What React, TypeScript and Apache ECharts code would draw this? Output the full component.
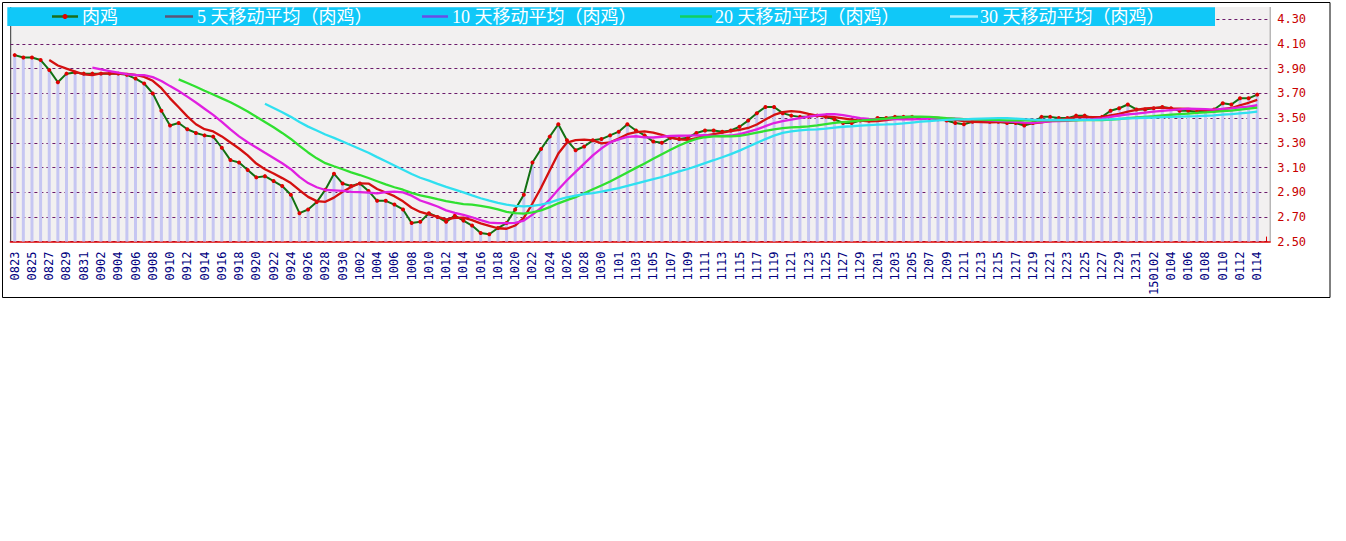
import React, { useEffect, useRef } from "react";
import * as echarts from "echarts";

// Dates (MMDD), one per day; the year prefix appears on the first 2015 label
const dates = [
  "0823","0824","0825","0826","0827","0828","0829","0830","0831",
  "0901","0902","0903","0904","0905","0906","0907","0908","0909","0910",
  "0911","0912","0913","0914","0915","0916","0917","0918","0919","0920",
  "0921","0922","0923","0924","0925","0926","0927","0928","0929","0930",
  "1001","1002","1003","1004","1005","1006","1007","1008","1009","1010",
  "1011","1012","1013","1014","1015","1016","1017","1018","1019","1020",
  "1021","1022","1023","1024","1025","1026","1027","1028","1029","1030","1031",
  "1101","1102","1103","1104","1105","1106","1107","1108","1109","1110",
  "1111","1112","1113","1114","1115","1116","1117","1118","1119","1120",
  "1121","1122","1123","1124","1125","1126","1127","1128","1129","1130",
  "1201","1202","1203","1204","1205","1206","1207","1208","1209","1210",
  "1211","1212","1213","1214","1215","1216","1217","1218","1219","1220",
  "1221","1222","1223","1224","1225","1226","1227","1228","1229","1230","1231",
  "0101","150102","0103","0104","0105","0106","0107","0108","0109","0110",
  "0111","0112","0113","0114","0115",
];

// 肉鸡 price (元), 0823 .. 0114
const price = [
  4.01, 3.99, 3.99, 3.97, 3.89, 3.79, 3.86, 3.87, 3.86, 3.86,
  3.86, 3.86, 3.86, 3.85, 3.82, 3.78, 3.70, 3.56, 3.44, 3.46,
  3.41, 3.38, 3.36, 3.35, 3.26, 3.16, 3.14, 3.08, 3.02, 3.03,
  2.99, 2.95, 2.88, 2.73, 2.76, 2.82, 2.92, 3.05, 2.97, 2.95,
  2.97, 2.91, 2.83, 2.83, 2.80, 2.76, 2.65, 2.66, 2.73, 2.70,
  2.66, 2.71, 2.67, 2.63, 2.57, 2.56, 2.61, 2.65, 2.76, 2.88,
  3.14, 3.25, 3.35, 3.45, 3.32, 3.24, 3.27, 3.32, 3.33, 3.36,
  3.39, 3.45, 3.40, 3.36, 3.31, 3.30, 3.34, 3.33, 3.34, 3.38,
  3.40, 3.40, 3.39, 3.40, 3.43, 3.48, 3.54, 3.59, 3.59, 3.54,
  3.52, 3.51, 3.51, 3.52, 3.51, 3.49, 3.46, 3.46, 3.48, 3.48,
  3.50, 3.50, 3.51, 3.51, 3.51, 3.50, 3.50, 3.49, 3.48, 3.46,
  3.45, 3.47, 3.48, 3.47, 3.47, 3.46, 3.46, 3.44, 3.46, 3.51,
  3.51, 3.50, 3.50, 3.52, 3.52, 3.50, 3.51, 3.56, 3.58, 3.61,
  3.57, 3.57, 3.58, 3.59, 3.58, 3.56, 3.56, 3.55, 3.56, 3.57,
  3.62, 3.61, 3.66, 3.66, 3.69,
];

// 5-day moving average, starting at 0827
const ma5Values = [
  3.970, 3.926, 3.900, 3.876, 3.854, 3.848, 3.862, 3.862, 3.860, 3.858,
  3.850, 3.834, 3.802, 3.742, 3.660, 3.588, 3.514, 3.450, 3.410, 3.392,
  3.352, 3.302, 3.254, 3.198, 3.132, 3.086, 3.052, 3.014, 2.974, 2.916,
  2.862, 2.828, 2.822, 2.856, 2.904, 2.942, 2.972, 2.970, 2.926, 2.898,
  2.868, 2.826, 2.774, 2.740, 2.720, 2.700, 2.680, 2.692, 2.694, 2.674,
  2.648, 2.628, 2.608, 2.604, 2.630, 2.692, 2.808, 2.936, 3.076, 3.214,
  3.302, 3.322, 3.326, 3.320, 3.296, 3.304, 3.334, 3.370, 3.386, 3.392,
  3.382, 3.364, 3.342, 3.328, 3.324, 3.338, 3.358, 3.370, 3.382, 3.394,
  3.404, 3.420, 3.448, 3.488, 3.526, 3.548, 3.556, 3.550, 3.534, 3.520,
  3.514, 3.508, 3.498, 3.488, 3.480, 3.474, 3.476, 3.484, 3.494, 3.500,
  3.506, 3.506, 3.506, 3.502, 3.496, 3.486, 3.476, 3.470, 3.468, 3.466,
  3.468, 3.470, 3.468, 3.460, 3.458, 3.466, 3.476, 3.484, 3.496, 3.508,
  3.510, 3.508, 3.510, 3.522, 3.534, 3.552, 3.566, 3.578, 3.582, 3.584,
  3.578, 3.576, 3.574, 3.568, 3.562, 3.560, 3.572, 3.582, 3.604, 3.624,
  3.648,
];

// 10-day moving average, starting at 0901
const ma10Values = [
  3.909, 3.894, 3.881, 3.868, 3.856, 3.849, 3.848, 3.832, 3.801, 3.759,
  3.719, 3.674, 3.626, 3.576, 3.526, 3.470, 3.408, 3.352, 3.304, 3.262,
  3.219, 3.177, 3.134, 3.086, 3.024, 2.974, 2.940, 2.918, 2.915, 2.910,
  2.902, 2.900, 2.896, 2.891, 2.901, 2.905, 2.899, 2.872, 2.833, 2.809,
  2.784, 2.753, 2.733, 2.717, 2.697, 2.674, 2.654, 2.650, 2.649, 2.652,
  2.670, 2.718, 2.772, 2.840, 2.922, 2.997, 3.065, 3.131, 3.198, 3.255,
  3.303, 3.328, 3.348, 3.353, 3.344, 3.343, 3.349, 3.356, 3.357, 3.358,
  3.360, 3.361, 3.356, 3.355, 3.359, 3.371, 3.389, 3.409, 3.435, 3.460,
  3.476, 3.488, 3.499, 3.511, 3.523, 3.531, 3.532, 3.524, 3.511, 3.500,
  3.494, 3.492, 3.491, 3.491, 3.490, 3.490, 3.491, 3.495, 3.498, 3.498,
  3.496, 3.491, 3.488, 3.485, 3.481, 3.477, 3.473, 3.469, 3.464, 3.462,
  3.467, 3.473, 3.476, 3.478, 3.483, 3.488, 3.492, 3.497, 3.509, 3.521,
  3.531, 3.537, 3.544, 3.552, 3.559, 3.565, 3.571, 3.576, 3.575, 3.573,
  3.569, 3.574, 3.578, 3.586, 3.593, 3.604,
];

// 20-day moving average, starting at 0911
const ma20Values = [
  3.814, 3.784, 3.754, 3.722, 3.691, 3.660, 3.628, 3.592, 3.553, 3.511,
  3.469, 3.426, 3.380, 3.331, 3.275, 3.222, 3.174, 3.135, 3.110, 3.086,
  3.061, 3.039, 3.015, 2.989, 2.963, 2.940, 2.920, 2.895, 2.874, 2.860,
  2.843, 2.827, 2.815, 2.804, 2.799, 2.790, 2.777, 2.761, 2.741, 2.731,
  2.727, 2.736, 2.753, 2.779, 2.810, 2.836, 2.860, 2.891, 2.924, 2.954,
  2.987, 3.023, 3.060, 3.097, 3.133, 3.170, 3.207, 3.244, 3.278, 3.307,
  3.332, 3.345, 3.352, 3.354, 3.352, 3.357, 3.369, 3.383, 3.396, 3.409,
  3.418, 3.425, 3.428, 3.433, 3.441, 3.451, 3.461, 3.467, 3.473, 3.480,
  3.485, 3.490, 3.495, 3.501, 3.507, 3.511, 3.512, 3.510, 3.505, 3.499,
  3.495, 3.492, 3.490, 3.488, 3.486, 3.484, 3.482, 3.482, 3.481, 3.480,
  3.482, 3.482, 3.482, 3.482, 3.482, 3.483, 3.483, 3.483, 3.487, 3.492,
  3.499, 3.505, 3.510, 3.515, 3.521, 3.527, 3.532, 3.537, 3.542, 3.547,
  3.550, 3.556, 3.561, 3.569, 3.576, 3.585,
];

// 30-day moving average, starting at 0921
const ma30Values = [
  3.616, 3.582, 3.547, 3.510, 3.469, 3.431, 3.399, 3.367, 3.340, 3.310,
  3.280, 3.250, 3.219, 3.184, 3.150, 3.116, 3.082, 3.047, 3.017, 2.994,
  2.968, 2.943, 2.921, 2.898, 2.874, 2.851, 2.831, 2.813, 2.799, 2.790,
  2.785, 2.790, 2.800, 2.816, 2.840, 2.859, 2.873, 2.884, 2.893, 2.905,
  2.919, 2.933, 2.951, 2.970, 2.988, 3.005, 3.023, 3.046, 3.068, 3.088,
  3.111, 3.136, 3.159, 3.183, 3.208, 3.237, 3.268, 3.299, 3.330, 3.358,
  3.380, 3.392, 3.401, 3.406, 3.409, 3.415, 3.423, 3.430, 3.434, 3.439,
  3.443, 3.447, 3.449, 3.452, 3.457, 3.464, 3.471, 3.476, 3.481, 3.486,
  3.489, 3.490, 3.493, 3.496, 3.498, 3.499, 3.499, 3.496, 3.491, 3.487,
  3.486, 3.485, 3.485, 3.485, 3.485, 3.485, 3.485, 3.487, 3.490, 3.494,
  3.498, 3.500, 3.503, 3.505, 3.508, 3.510, 3.512, 3.514, 3.516, 3.519,
  3.522, 3.528, 3.533, 3.539, 3.545, 3.552,
];

const seriesNames = [
  "肉鸡",
  "5 天移动平均（肉鸡）",
  "10 天移动平均（肉鸡）",
  "20 天移动平均（肉鸡）",
  "30 天移动平均（肉鸡）",
];

function alignTo(values: number[], total: number) {
  const out: (number | null)[] = [];
  for (let i = 0; i < total - values.length; i++) out.push(null);
  return out.concat(values);
}

const MONO = '"DejaVu Sans Mono", "Liberation Mono", monospace';
const LEGEND_FONT = '18px "Liberation Serif", "Noto Sans CJK SC", serif';

export default function App() {
  const ref = useRef<HTMLDivElement>(null);

  useEffect(() => {
    document.body.style.margin = "0";
    document.body.style.overflow = "hidden";
    const chart = echarts.init(ref.current!, null, { renderer: "svg" });
    const n = price.length;

    const legendItems = [
      { x1: 52, x2: 78, color: "#1a6e1a", tx: 82, dot: true },
      { x1: 165, x2: 193, color: "#5c5478", tx: 197 },
      { x1: 422, x2: 448, color: "#6a4ce6", tx: 452 },
      { x1: 680, x2: 712, color: "#10d060", tx: 715 },
      { x1: 950, x2: 978, color: "#a8f0ff", tx: 980 },
    ];
    const legendGraphics: any[] = [];
    legendItems.forEach((it, i) => {
      legendGraphics.push({
        type: "line",
        z: 101,
        shape: { x1: it.x1, y1: 16.5, x2: it.x2, y2: 16.5 },
        style: { stroke: it.color, lineWidth: 2.5 },
      });
      if (it.dot) {
        legendGraphics.push({
          type: "circle",
          z: 102,
          shape: { cx: (it.x1 + it.x2) / 2, cy: 16.5, r: 2.5 },
          style: { fill: "#e00000" },
        });
      }
      legendGraphics.push({
        type: "text",
        z: 102,
        style: {
          text: seriesNames[i],
          x: it.tx,
          y: 17,
          fill: "#ffffff",
          font: LEGEND_FONT,
          align: "left",
          verticalAlign: "middle",
        },
      });
    });

    chart.setOption({
      animation: false,
      backgroundColor: "#ffffff",
      grid: { left: 10.4, right: 75.8, top: 19.3, bottom: 299.4, containLabel: false },
      xAxis: {
        type: "category",
        data: dates,
        boundaryGap: true,
        axisLine: { show: true, lineStyle: { color: "#dd0000", width: 1.5 } },
        axisTick: {
          show: true,
          inside: true,
          length: 5,
          interval: 0,
          alignWithLabel: true,
          lineStyle: { color: "#dd0000" },
        },
        axisLabel: {
          interval: 1,
          rotate: 90,
          color: "#000080",
          fontFamily: MONO,
          fontSize: 12,
          margin: 10,
        },
        splitLine: { show: false },
      },
      yAxis: {
        type: "value",
        position: "right",
        min: 2.5,
        max: 4.3,
        interval: 0.2,
        axisLine: { show: false },
        axisTick: { show: false },
        axisLabel: {
          color: "#c80000",
          fontFamily: MONO,
          fontSize: 12,
          margin: 7,
          formatter: (v: number) => v.toFixed(2),
        },
        splitLine: {
          show: true,
          lineStyle: { color: "#6b1a6b", type: [3, 3], width: 1 },
        },
      },
      graphic: [
        {
          type: "rect",
          z: -10,
          shape: { x: 10.4, y: 7, width: 1259.8, height: 234.6 },
          style: { fill: "#f2f0f0" },
        },
        {
          type: "line",
          z: -5,
          shape: { x1: 10.7, y1: 7, x2: 10.7, y2: 241.6 },
          style: { stroke: "#333333", lineWidth: 1 },
        },
        {
          type: "line",
          z: -5,
          shape: { x1: 1270.2, y1: 7, x2: 1270.2, y2: 241.6 },
          style: { stroke: "#999999", lineWidth: 1 },
        },
        {
          type: "rect",
          z: -10,
          shape: { x: 2.5, y: 2.5, width: 1327.5, height: 295 },
          style: { fill: "none", stroke: "#000000", lineWidth: 1 },
        },
        {
          type: "rect",
          z: 100,
          shape: { x: 7.3, y: 7.3, width: 1207.7, height: 18.7 },
          style: { fill: "#10c8f8" },
        },
        ...legendGraphics,
      ],
      series: [
        {
          name: "bars",
          type: "bar",
          data: price,
          barWidth: 3,
          silent: true,
          itemStyle: { color: "#c6c6f2" },
          z: 1,
        },
        {
          name: seriesNames[0],
          type: "line",
          data: price,
          symbol: "circle",
          symbolSize: 4,
          showSymbol: true,
          showAllSymbol: true,
          itemStyle: { color: "#e00000" },
          lineStyle: { color: "#127012", width: 2 },
          z: 3,
        },
        {
          name: seriesNames[1],
          type: "line",
          data: alignTo(ma5Values, n),
          symbol: "none",
          lineStyle: { color: "#d41010", width: 2.3 },
          z: 4,
        },
        {
          name: seriesNames[2],
          type: "line",
          data: alignTo(ma10Values, n),
          symbol: "none",
          lineStyle: { color: "#e020e0", width: 2.3 },
          z: 5,
        },
        {
          name: seriesNames[3],
          type: "line",
          data: alignTo(ma20Values, n),
          symbol: "none",
          lineStyle: { color: "#30e030", width: 2.3 },
          z: 6,
        },
        {
          name: seriesNames[4],
          type: "line",
          data: alignTo(ma30Values, n),
          symbol: "none",
          lineStyle: { color: "#30e0f0", width: 2.3 },
          z: 7,
        },
      ],
    });

    return () => chart.dispose();
  }, []);

  return <div ref={ref} style={{ width: 1346, height: 541, background: "#ffffff" }} />;
}
